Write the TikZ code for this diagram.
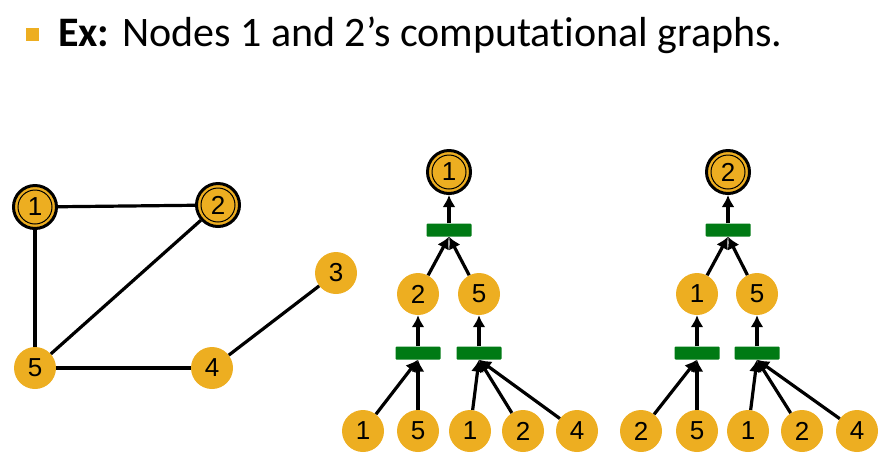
\documentclass[tikz,border=0pt]{standalone}
\usepackage{fontspec}
\setmainfont[Ligatures=NoCommon]{Carlito}
\newfontfamily\numfont{Liberation Sans}
\usetikzlibrary{arrows.meta}

\definecolor{nodegold}{RGB}{237,174,33}
\definecolor{aggreen}{RGB}{0,122,20}

\tikzset{
	vert/.style={circle, fill=nodegold, minimum size=42pt, inner sep=0pt, font=\numfont\fontsize{26pt}{26pt}\selectfont},
	target/.style={vert, minimum size=43pt, draw=black, line width=3pt,
		path picture={\draw[line width=1pt] (path picture bounding box.center) circle (17pt);}},
	aggbox/.style={rectangle, fill=aggreen, rounded corners=1pt, minimum width=45pt, minimum height=13pt, inner sep=0pt},
	link/.style={line width=3.2pt},
	flow/.style={line width=3.2pt, -{Latex[length=12pt,width=13pt]}}
}

\begin{document}
\begin{tikzpicture}[x=1pt,y=-1pt]
		\useasboundingbox (0,0) rectangle (882,467);

		% title
		\node[fill=nodegold, minimum size=13pt, inner sep=0pt] (bullet) at (32.5, 34.5) {};
		\node[anchor=base west, inner sep=0pt, font=\fontsize{42pt}{42pt}\selectfont] (title) at (58, 46) {\textbf{Ex:} Nodes 1 and 2’s computational graphs.};

		% input graph
		\node[target] (g1) at ( 35, 207) {1};
		\node[target] (g2) at (218, 205) {2};
		\node[vert]   (g3) at (336, 273) {3};
		\node[vert]   (g4) at (212, 368) {4};
		\node[vert]   (g5) at ( 35, 368) {5};

		\draw[link] (g1) -- (g2);
		\draw[link] (g1) -- (g5);
		\draw[link] (g2) -- (g5);
		\draw[link] (g5) -- (g4);
		\draw[link] (g4) -- (g3);

		% computation graph of node 1
		\node[target] (a0)  at (449, 172) {1};
		\node[aggbox] (aA)  at (449, 230) {};
		\node[vert]   (a2)  at (418, 294) {2};
		\node[vert]   (a5)  at (479, 294) {5};
		\node[aggbox] (aB)  at (418, 353) {};
		\node[aggbox] (aC)  at (479, 353) {};
		\node[vert]   (a21) at (363, 431) {1};
		\node[vert]   (a25) at (418, 431) {5};
		\node[vert]   (a51) at (470, 431) {1};
		\node[vert]   (a52) at (523, 431) {2};
		\node[vert]   (a54) at (577, 431) {4};

		\draw[flow] (aA.north) -- (a0);
		\draw[flow] (a2) -- (aA.south);
		\draw[flow] (a5) -- (aA.south);
		\draw[flow] (aB.north) -- (a2);
		\draw[flow] (aC.north) -- (a5);
		\draw[flow] (a21) -- (aB.south);
		\draw[flow] (a25) -- (aB.south);
		\draw[flow] (a51) -- (aC.south);
		\draw[flow] (a52) -- (aC.south);
		\draw[flow] (a54) -- (aC.south);

		% computation graph of node 2
		\node[target] (b0)  at (728, 172) {2};
		\node[aggbox] (bA)  at (728, 230) {};
		\node[vert]   (b1)  at (697, 294) {1};
		\node[vert]   (b5)  at (757, 294) {5};
		\node[aggbox] (bB)  at (697, 353) {};
		\node[aggbox] (bC)  at (757, 353) {};
		\node[vert]   (b12) at (641, 431) {2};
		\node[vert]   (b15) at (697, 431) {5};
		\node[vert]   (b51) at (748, 431) {1};
		\node[vert]   (b52) at (802, 431) {2};
		\node[vert]   (b54) at (857, 431) {4};

		\draw[flow] (bA.north) -- (b0);
		\draw[flow] (b1) -- (bA.south);
		\draw[flow] (b5) -- (bA.south);
		\draw[flow] (bB.north) -- (b1);
		\draw[flow] (bC.north) -- (b5);
		\draw[flow] (b12) -- (bB.south);
		\draw[flow] (b15) -- (bB.south);
		\draw[flow] (b51) -- (bC.south);
		\draw[flow] (b52) -- (bC.south);
		\draw[flow] (b54) -- (bC.south);
	\end{tikzpicture}
\end{document}
